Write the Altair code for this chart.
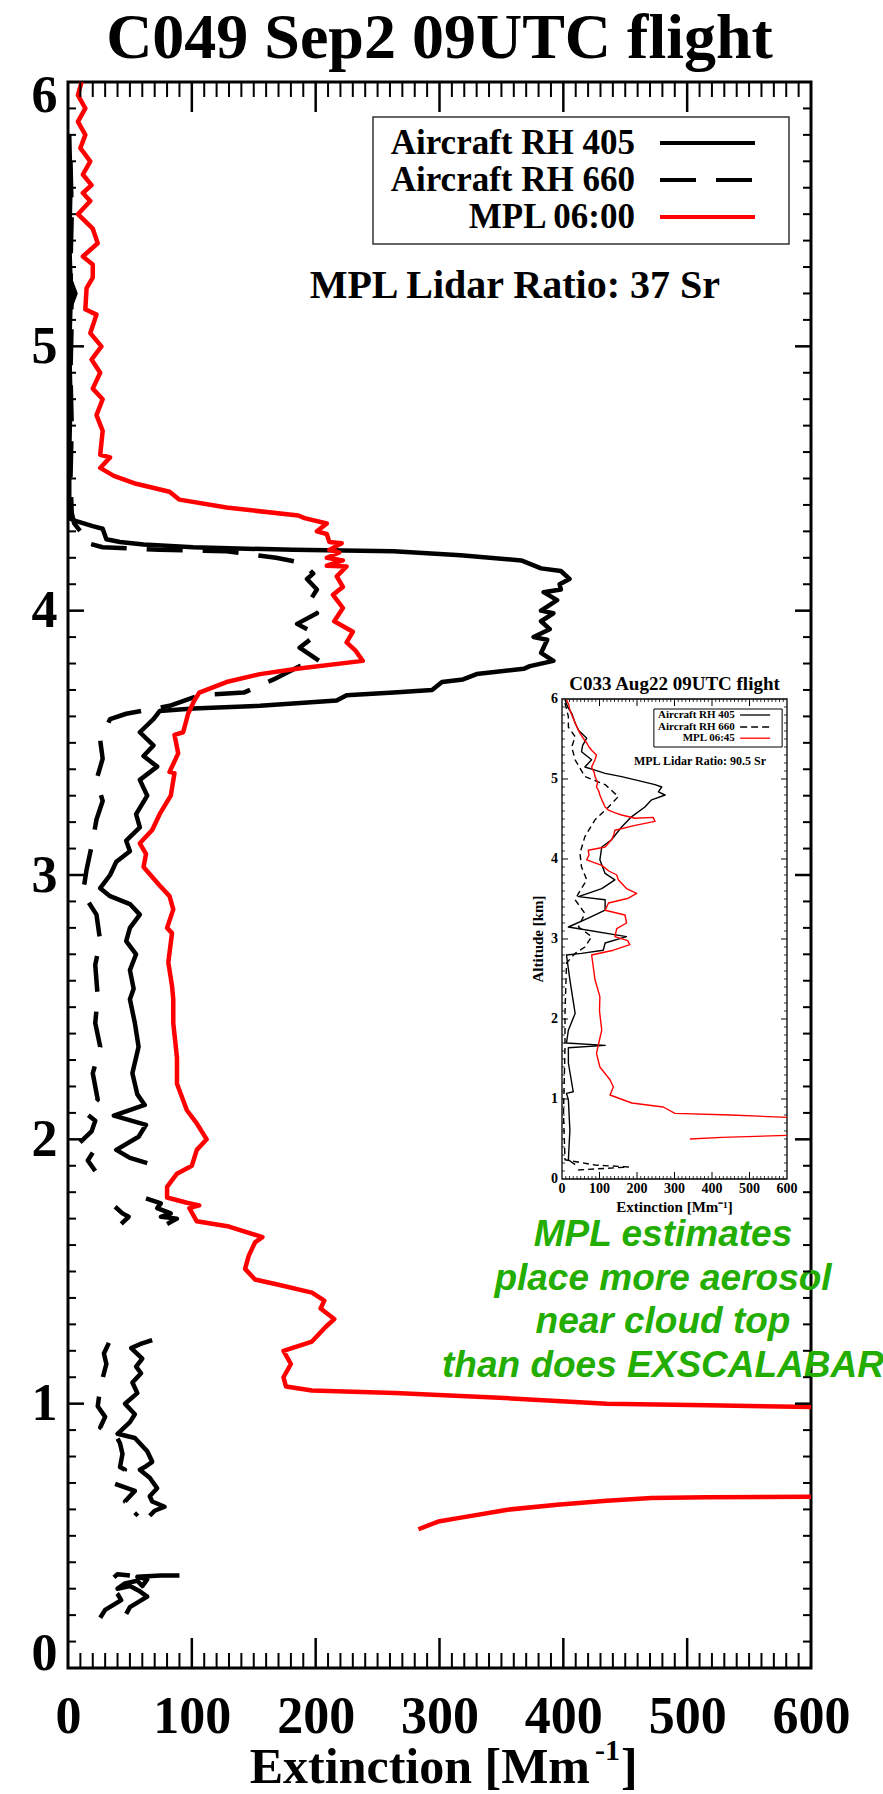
import altair as alt
import pandas as pd

W, H = 743, 1586
SERIF = "Liberation Serif"
SANS = "Liberation Sans"

TITLE = "C049 Sep2 09UTC flight"
INSET_TITLE = "C033 Aug22 09UTC flight"
LEGEND_LABELS = ["Aircraft RH 405", "Aircraft RH 660", "MPL 06:00"]
INSET_LEGEND_LABELS = ["Aircraft RH 405", "Aircraft RH 660", "MPL 06:45"]
RATIO_TEXT = "MPL Lidar Ratio: 37 Sr"
INSET_RATIO_TEXT = "MPL Lidar Ratio: 90.5 Sr"
NOTE_LINES = ["MPL estimates", "place more aerosol", "near cloud top", "than does EXSCALABAR"]
X_TICKS = [0, 100, 200, 300, 400, 500, 600]
Y_TICKS = [0, 1, 2, 3, 4, 5, 6]
GREEN = "#22AD00"

# ---- main profiles: (altitude km, extinction Mm-1) ----
mpl_upper = [
    (6.00, 11), (5.95, 8), (5.90, 14), (5.85, 8), (5.80, 14), (5.75, 10), (5.70, 18), (5.65, 12),
    (5.61, 19), (5.58, 12), (5.55, 18), (5.50, 8), (5.445, 20), (5.39, 24), (5.34, 12), (5.31, 20),
    (5.26, 20), (5.22, 15), (5.14, 14), (5.12, 23), (5.05, 18), (5.00, 27), (4.95, 19), (4.90, 26),
    (4.84, 20), (4.80, 28), (4.74, 23), (4.68, 28), (4.59, 26), (4.58, 34), (4.54, 26), (4.51, 37),
    (4.48, 55), (4.45, 82), (4.42, 90), (4.39, 128), (4.36, 186), (4.35, 191), (4.33, 209), (4.30, 201),
    (4.29, 209), (4.26, 211), (4.255, 221), (4.23, 211), (4.22, 219), (4.20, 209), (4.19, 222),
    (4.17, 209), (4.167, 225), (4.13, 217), (4.09, 222), (4.06, 214), (4.01, 222), (3.96, 215),
    (3.92, 230), (3.88, 225), (3.85, 232), (3.81, 238), (3.78, 185), (3.76, 155), (3.73, 128),
    (3.69, 106), (3.66, 102), (3.61, 97), (3.54, 93), (3.53, 86), (3.46, 89), (3.39, 82), (3.385, 86),
    (3.30, 83), (3.23, 74), (3.17, 68), (3.12, 58), (3.08, 63), (3.03, 61), (2.96, 74), (2.92, 82),
    (2.87, 85), (2.80, 80), (2.78, 84), (2.67, 81), (2.58, 84), (2.53, 85), (2.44, 85), (2.31, 88),
    (2.21, 88), (2.11, 96), (2.06, 104), (2.00, 112), (1.96, 104), (1.90, 100), (1.87, 88), (1.82, 80),
    (1.78, 80), (1.76, 96), (1.75, 106), (1.74, 98), (1.69, 104), (1.67, 130), (1.63, 157), (1.61, 151),
    (1.56, 146), (1.51, 143), (1.47, 151), (1.45, 170), (1.42, 197), (1.39, 207), (1.36, 204),
    (1.32, 215), (1.29, 208), (1.25, 200), (1.235, 197), (1.20, 174), (1.15, 180), (1.10, 174),
    (1.065, 176), (1.05, 197), (1.04, 264), (1.02, 358), (1.00, 435), (0.994, 516), (0.987, 600),
]
mpl_lower = [
    (0.525, 283), (0.554, 299), (0.567, 315), (0.599, 355), (0.618, 395), (0.633, 435),
    (0.643, 471), (0.646, 516), (0.648, 600),
]

rh405_segments = [
    [(5.80, 1), (5.60, 2), (5.40, 1), (5.25, 2), (5.20, 6), (5.15, 2), (5.00, 1), (4.80, 2), (4.60, 1),
     (4.40, 1), (4.35, 1), (4.34, 6), (4.32, 20), (4.31, 28), (4.27, 31), (4.26, 42), (4.25, 61),
     (4.24, 101), (4.23, 182), (4.225, 263), (4.21, 317), (4.19, 366), (4.16, 382), (4.15, 398),
     (4.12, 405), (4.10, 397), (4.08, 398), (4.07, 384), (4.04, 395), (4.00, 382), (3.99, 392),
     (3.96, 382), (3.93, 389), (3.90, 376), (3.89, 387), (3.84, 382), (3.81, 392), (3.79, 373),
     (3.78, 368), (3.76, 330), (3.74, 319), (3.73, 302), (3.70, 294), (3.69, 263), (3.68, 225),
     (3.66, 217), (3.64, 155), (3.63, 101), (3.62, 74), (3.59, 69), (3.54, 58), (3.49, 69), (3.45, 61),
     (3.41, 72), (3.36, 58), (3.30, 64), (3.23, 55), (3.18, 58), (3.13, 47), (3.09, 50), (3.05, 39),
     (3.00, 34), (2.95, 26), (2.92, 34), (2.89, 50), (2.85, 58), (2.80, 50), (2.75, 47), (2.70, 55),
     (2.64, 50), (2.57, 53), (2.53, 50), (2.44, 54), (2.35, 57), (2.25, 52), (2.17, 56), (2.13, 62),
     (2.09, 37), (2.055, 63), (2.01, 57), (1.96, 39), (1.93, 50), (1.91, 64)],
    [(1.777, 63), (1.758, 75), (1.74, 72), (1.72, 83), (1.707, 75), (1.70, 88), (1.68, 80)],
    [(1.24, 68), (1.225, 58), (1.21, 51), (1.17, 60), (1.14, 55), (1.115, 59), (1.08, 52), (1.04, 56),
     (1.00, 46), (0.96, 54), (0.93, 50), (0.886, 40), (0.87, 54), (0.82, 64), (0.78, 68), (0.76, 62),
     (0.75, 58), (0.72, 66), (0.68, 72), (0.65, 66), (0.63, 68), (0.61, 78), (0.595, 70), (0.576, 66)],
    [(0.205, 47), (0.23, 50), (0.27, 64), (0.29, 58), (0.31, 50), (0.30, 40), (0.32, 46), (0.33, 56),
     (0.31, 60), (0.335, 64), (0.345, 56), (0.35, 75), (0.35, 90)],
]
rh660_segments = [
    [(5.70, 2), (5.50, 3), (5.30, 2), (5.10, 3), (4.90, 2), (4.70, 3), (4.50, 2), (4.37, 3), (4.33, 5),
     (4.30, 10), (4.26, 12), (4.24, 28), (4.23, 74), (4.225, 128), (4.20, 168), (4.18, 190),
     (4.14, 198), (4.12, 193), (4.08, 201), (4.02, 193), (3.99, 201), (3.95, 185), (3.91, 201),
     (3.86, 187), (3.81, 203), (3.79, 187), (3.74, 166), (3.69, 142), (3.68, 106), (3.64, 82),
     (3.61, 47), (3.59, 34), (3.51, 26), (3.44, 28), (3.36, 23), (3.28, 28), (3.21, 23), (3.13, 20),
     (3.02, 15), (2.93, 12), (2.85, 23), (2.75, 26), (2.66, 22), (2.54, 24), (2.44, 22), (2.35, 26),
     (2.25, 20), (2.15, 24), (2.10, 14), (2.07, 22), (2.03, 19), (1.98, 8), (1.95, 20), (1.92, 16),
     (1.88, 22)],
    [(1.745, 38), (1.72, 44), (1.707, 49), (1.68, 43)],
    [(1.23, 33), (1.19, 29), (1.15, 31), (1.115, 29), (1.06, 26), (0.99, 24), (0.95, 30), (0.91, 26),
     (0.886, 38), (0.85, 42), (0.81, 44), (0.76, 42), (0.75, 46), (0.70, 36), (0.67, 54), (0.63, 46),
     (0.595, 58), (0.576, 54)],
    [(0.19, 26), (0.22, 30), (0.257, 43), (0.28, 40), (0.30, 36), (0.33, 34), (0.355, 40), (0.35, 50)],
]

# ---- inset profiles (C033 Aug22) ----
inset_mpl = [
    [(5.99, 12), (5.93, 18), (5.86, 21), (5.78, 28), (5.70, 35), (5.63, 42), (5.57, 48), (5.50, 58),
     (5.45, 66), (5.40, 72), (5.36, 79), (5.30, 92), (5.24, 88), (5.15, 79), (5.08, 86), (5.03, 88),
     (4.96, 95), (4.90, 92), (4.85, 98), (4.80, 101), (4.72, 108), (4.65, 115), (4.61, 124),
     (4.58, 140), (4.55, 159), (4.51, 195), (4.52, 243), (4.47, 248), (4.42, 195), (4.36, 141),
     (4.30, 138), (4.24, 132), (4.15, 115), (4.11, 70), (4.05, 72), (3.99, 66), (3.92, 106),
     (3.85, 125), (3.80, 146), (3.74, 150), (3.63, 172), (3.57, 199), (3.51, 177), (3.45, 124),
     (3.36, 115), (3.30, 168), (3.20, 172), (3.13, 146), (3.03, 141), (2.98, 175), (2.93, 181),
     (2.86, 137), (2.80, 79), (2.70, 82), (2.49, 88), (2.28, 101), (2.10, 100), (1.86, 106),
     (1.70, 98), (1.57, 92), (1.40, 101), (1.24, 128), (1.15, 137), (1.05, 128), (0.95, 186),
     (0.90, 270), (0.82, 301), (0.80, 450), (0.77, 600)],
    [(0.50, 341), (0.52, 426), (0.545, 600)],
]
inset_rh405 = [
    [(5.99, 8), (5.90, 15), (5.82, 26), (5.70, 35), (5.61, 44), (5.51, 66), (5.42, 55), (5.34, 52),
     (5.24, 79), (5.15, 61), (5.11, 88), (5.07, 115), (5.03, 159), (4.97, 212), (4.93, 248),
     (4.90, 266), (4.84, 257), (4.80, 275), (4.74, 239), (4.65, 221), (4.53, 186), (4.40, 159),
     (4.24, 132), (4.15, 106), (3.99, 101), (3.82, 115), (3.74, 141), (3.63, 106), (3.53, 44),
     (3.49, 115), (3.36, 115), (3.26, 70), (3.15, 17), (3.03, 172), (2.95, 115), (2.86, 110),
     (2.82, 52), (2.80, 12), (2.49, 21), (2.07, 35), (1.86, 17), (1.70, 12), (1.67, 115), (1.64, 17),
     (1.45, 17), (1.09, 30), (1.07, 12), (0.99, 17), (0.61, 21), (0.24, 17), (0.18, 35)],
]
inset_rh660 = [
    [(5.95, 8), (5.78, 17), (5.65, 17), (5.53, 35), (5.40, 26), (5.24, 35), (5.03, 61), (4.93, 115),
     (4.78, 150), (4.65, 124), (4.49, 88), (4.28, 61), (4.07, 48), (3.90, 52), (3.74, 66), (3.57, 44),
     (3.49, 35), (3.32, 61), (3.15, 44), (3.03, 79), (2.90, 61), (2.82, 35), (2.70, 12), (2.07, 8),
     (1.65, 8), (0.82, 4), (0.24, 8), (0.175, 88), (0.15, 177), (0.11, 35)],
]


def seg_frame(segments, key):
    rows = []
    for s, seg in enumerate(segments):
        for i, (a, e) in enumerate(seg):
            rows.append({"alt": a, "ext": e, "seg": f"{key}{s}", "i": i})
    return pd.DataFrame(rows)


# ---- scales and axes ----
xs = alt.Scale(domain=[0, 600], nice=False, zero=False)
ys = alt.Scale(domain=[0, 6], nice=False, zero=False)
xsi = alt.Scale(domain=[0, 600], range=[494, 719], nice=False, zero=False)
ysi = alt.Scale(domain=[0, 6], range=[1097, 617], nice=False, zero=False)

x_axis = alt.Axis(values=X_TICKS, title=None, grid=False, domain=False, ticks=False, tickSize=0,
                  labelFont=SERIF, labelFontWeight="bold", labelFontSize=52, labelColor="black",
                  labelPadding=64, labelBaseline="alphabetic", labelOverlap=False,
                  labelFlush=False, format="d")
y_axis = alt.Axis(values=Y_TICKS, title=None, grid=False, domain=False, ticks=False, tickSize=0,
                  labelFont=SERIF, labelFontWeight="bold", labelFontSize=52, labelColor="black",
                  labelPadding=11, labelOverlap=False, labelFlush=True, labelFlushOffset=12,
                  format="d")


def MX(f):
    return alt.X(f, type="quantitative", scale=xs, axis=x_axis)


def MY(f):
    return alt.Y(f, type="quantitative", scale=ys, axis=y_axis)


def IX(f):
    return alt.X(f, type="quantitative", scale=xsi, axis=None)


def IY(f):
    return alt.Y(f, type="quantitative", scale=ysi, axis=None)


def line(df, X, Y, color, width, dash=None):
    kw = dict(color=color, strokeWidth=width, strokeJoin="round", strokeCap="butt")
    if dash:
        kw["strokeDash"] = dash
    return alt.Chart(df).mark_line(**kw).encode(
        x=X("ext"), y=Y("alt"), detail="seg:N", order="i:Q")


def hticks(vals, at, off, X, Y, sw):
    df = pd.DataFrame({"ext": vals, "alt": [at] * len(vals)})
    return alt.Chart(df).mark_rule(color="black", strokeWidth=sw, y2Offset=off).encode(
        x=X("ext"), y=Y("alt"), y2=alt.Y2("alt"))


def vticks(vals, at, off, X, Y, sw):
    df = pd.DataFrame({"alt": vals, "ext": [at] * len(vals)})
    return alt.Chart(df).mark_rule(color="black", strokeWidth=sw, x2Offset=off).encode(
        y=Y("alt"), x=X("ext"), x2=alt.X2("ext"))


def ptext(text, x, y, size, align="center", baseline="middle", font=SERIF, weight="bold",
          color="black", style="normal"):
    return alt.Chart(pd.DataFrame({"t": [text]})).mark_text(
        align=align, baseline=baseline, font=font, fontSize=size, fontWeight=weight,
        color=color, fontStyle=style).encode(text="t:N", x=alt.value(x), y=alt.value(y))


def dtext(text, ext, alt_v, X, Y, size, align="center", baseline="middle", dx=0, dy=0,
          angle=0, xoff=0, font=SERIF):
    return alt.Chart(pd.DataFrame({"t": [text], "ext": [ext], "alt": [alt_v]})).mark_text(
        align=align, baseline=baseline, font=font, fontSize=size, fontWeight="bold",
        color="black", dx=dx, dy=dy, angle=angle, xOffset=xoff).encode(
        text="t:N", x=X("ext"), y=Y("alt"))


x_minor = [v for v in range(10, 600, 10) if v % 100]
x_major = [100, 200, 300, 400, 500]
y_minor = [round(k * 0.1, 1) for k in range(1, 60) if k % 10]
y_major = [1, 2, 3, 4, 5]

# ---- main layers ----
frame_df = pd.DataFrame({"ext": [0], "ext2": [600], "alt": [0], "alt2": [6]})
main_layers = []
main_layers.append(
    alt.Chart(frame_df).mark_rect(fillOpacity=0, stroke="black", strokeWidth=3).encode(
        x=MX("ext"), x2=alt.X2("ext2"), y=MY("alt"), y2=alt.Y2("alt2")))
for i, line_txt in enumerate(NOTE_LINES):
    main_layers.append(ptext(line_txt, 595, 1153 + i * 43.5, 37, font=SANS, color=GREEN,
                             style="italic"))
main_layers += [
    line(seg_frame(rh660_segments, "d"), MX, MY, "black", 4.5, [36, 20]),
    line(seg_frame(rh405_segments, "s"), MX, MY, "black", 4.5),
    line(seg_frame([mpl_upper, mpl_lower], "m"), MX, MY, "#FF0000", 4.5),
    hticks(x_minor, 0, -15, MX, MY, 2), hticks(x_major, 0, -30, MX, MY, 2.5),
    hticks(x_minor, 6, 15, MX, MY, 2), hticks(x_major, 6, 30, MX, MY, 2.5),
    vticks(y_minor, 0, 8, MX, MY, 2), vticks(y_major, 0, 16, MX, MY, 2.5),
    vticks(y_minor, 600, -8, MX, MY, 2), vticks(y_major, 600, -16, MX, MY, 2.5),
]
# legend
main_layers.append(
    alt.Chart(pd.DataFrame({"t": ["legend"]})).mark_rect(fill="white", stroke="#333333",
                                                         strokeWidth=1.5).encode(
        x=alt.value(305), x2=alt.value(721), y=alt.value(35), y2=alt.value(162)))
leg_rows = [61, 98, 135]
leg_styles = [("black", None), ("black", [36, 20]), ("#FF0000", None)]
for lbl, yy, (col, dash) in zip(LEGEND_LABELS, leg_rows, leg_styles):
    main_layers.append(ptext(lbl, 567, yy, 35, align="right"))
    kw = dict(color=col, strokeWidth=4)
    if dash:
        kw["strokeDash"] = dash
    main_layers.append(
        alt.Chart(pd.DataFrame({"t": [lbl]})).mark_rule(**kw).encode(
            x=alt.value(592), x2=alt.value(687), y=alt.value(yy)))
main_layers += [
    ptext(RATIO_TEXT, 652, 204, 40, align="right"),
    ptext(TITLE, W / 2, -24, 64, baseline="alphabetic"),
    ptext("Extinction [Mm", 522, 1701, 50, align="right", baseline="alphabetic"),
    ptext("-1", 527, 1678, 30, align="left", baseline="alphabetic"),
    ptext("]", 553, 1701, 50, align="left", baseline="alphabetic"),
]
main = alt.layer(*main_layers)

# ---- inset layers ----
inset_layers = [
    alt.Chart(frame_df).mark_rect(fill="white", stroke="black", strokeWidth=1.3).encode(
        x=IX("ext"), x2=alt.X2("ext2"), y=IY("alt"), y2=alt.Y2("alt2")),
    line(seg_frame(inset_rh660, "d"), IX, IY, "black", 1.4, [6, 4]),
    line(seg_frame(inset_rh405, "s"), IX, IY, "black", 1.4),
    line(seg_frame(inset_mpl, "m"), IX, IY, "#FF0000", 1.4),
    hticks(x_minor, 0, -3, IX, IY, 0.8), hticks(x_major, 0, -7, IX, IY, 1),
    hticks(x_minor, 6, 3, IX, IY, 0.8), hticks(x_major, 6, 7, IX, IY, 1),
    vticks(y_minor, 0, 3, IX, IY, 0.8), vticks(y_major, 0, 6, IX, IY, 1),
    vticks(y_minor, 600, -3, IX, IY, 0.8), vticks(y_major, 600, -6, IX, IY, 1),
]
xt_df = pd.DataFrame({"ext": X_TICKS, "alt": [0] * len(X_TICKS), "t": [str(v) for v in X_TICKS]})
yt_df = pd.DataFrame({"alt": Y_TICKS, "ext": [0] * len(Y_TICKS), "t": [str(v) for v in Y_TICKS]})
inset_layers += [
    alt.Chart(xt_df).mark_text(font=SERIF, fontWeight="bold", fontSize=14, baseline="top",
                               dy=3, color="black").encode(x=IX("ext"), y=IY("alt"), text="t:N"),
    alt.Chart(yt_df).mark_text(font=SERIF, fontWeight="bold", fontSize=14, align="right",
                               baseline="middle", dx=-4, color="black").encode(
        x=IX("ext"), y=IY("alt"), text="t:N"),
    dtext(INSET_TITLE, 300, 6, IX, IY, 19, dy=-15),
    dtext("Extinction [Mm\u207b\u00b9]", 300, 0, IX, IY, 15, dy=28),
    dtext("Altitude [km]", 0, 3, IX, IY, 15, angle=270, xoff=-24),
    alt.Chart(pd.DataFrame({"ext": [245], "ext2": [587], "alt": [5.4], "alt2": [5.875]})).mark_rect(
        fill="white", stroke="black", strokeWidth=1).encode(
        x=IX("ext"), x2=alt.X2("ext2"), y=IY("alt"), y2=alt.Y2("alt2")),
    dtext(INSET_RATIO_TEXT, 368, 5.22, IX, IY, 12),
]
ileg_rows = [5.80, 5.65, 5.51]
ileg_styles = [("black", None), ("black", [7, 4]), ("#FF0000", None)]
for lbl, av, (col, dash) in zip(INSET_LEGEND_LABELS, ileg_rows, ileg_styles):
    inset_layers.append(dtext(lbl, 461, av, IX, IY, 11, align="right"))
    kw = dict(color=col, strokeWidth=1.3)
    if dash:
        kw["strokeDash"] = dash
    inset_layers.append(
        alt.Chart(pd.DataFrame({"ext": [475], "ext2": [555], "alt": [av]})).mark_rule(**kw).encode(
            x=IX("ext"), x2=alt.X2("ext2"), y=IY("alt")))
inset = alt.layer(*inset_layers)

chart = alt.layer(main, inset).resolve_scale(x="independent", y="independent").properties(
    width=W, height=H,
    autosize=alt.AutoSizeParams(type="none"),
    padding={"left": 68, "top": 82, "right": 72, "bottom": 126},
    background="white",
).configure_view(stroke=None)

chart.save("out.html", embed_options={"renderer": "svg", "actions": False})
